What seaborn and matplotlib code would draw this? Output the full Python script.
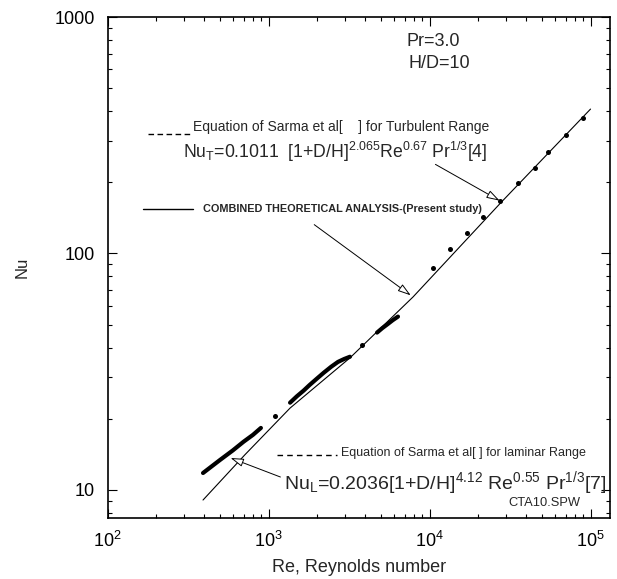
import matplotlib
matplotlib.use('Agg')
import matplotlib.pyplot as plt
import matplotlib.ticker as mticker
from matplotlib.lines import Line2D
import pandas as pd
import seaborn as sns

# combined theoretical analysis (solid thin line)
theory_re = [392, 714, 1361, 3206, 7900, 28200, 100000]
theory_nu = [9.07, 14.1, 22.2, 36.2, 65.5, 166, 408]

# laminar correlation (thick band at low Re)
laminar_re = [392, 500, 600, 700, 800, 897]
laminar_nu = [11.8, 13.4, 14.7, 16.0, 17.1, 18.3]

# dense experimental bands
bandA_re = [1361, 1500, 1650, 1800, 2000, 2200, 2450, 2700, 2950, 3206]
bandA_nu = [23.4, 24.9, 26.3, 27.8, 29.6, 31.3, 33.2, 34.8, 35.8, 36.6]
bandB_re = [4720, 5100, 5500, 5900, 6370]
bandB_nu = [46.3, 48.4, 50.3, 52.2, 54.1]

# single experimental points
pts_re = [1097, 3810, 10500, 13400, 17100, 21500, 27400, 35500, 45200, 54400, 70500, 89800]
pts_nu = [20.6, 41.1, 87.2, 104, 122, 142, 166, 198, 231, 268, 316, 373]

sns.set_style('ticks')
plt.rcParams['font.family'] = ['Liberation Sans', 'DejaVu Sans']
plt.rcParams['mathtext.fontset'] = 'custom'
plt.rcParams['mathtext.rm'] = 'Liberation Sans'
plt.rcParams['mathtext.it'] = 'Liberation Sans:italic'
plt.rcParams['mathtext.bf'] = 'Liberation Sans:bold'

W, H = 617, 579
fig = plt.figure(figsize=(W / 100, H / 100), dpi=100)
ax = fig.add_axes([107.5 / W, 1 - 518 / H, (610 - 107.5) / W, (518 - 17) / H])

bands = pd.DataFrame({
    'Re': laminar_re + bandA_re + bandB_re,
    'Nu': laminar_nu + bandA_nu + bandB_nu,
    'seg': ['lam'] * len(laminar_re) + ['A'] * len(bandA_re) + ['B'] * len(bandB_re),
})

sns.lineplot(x=theory_re, y=theory_nu, color='black', lw=0.8, ax=ax)
sns.lineplot(data=bands, x='Re', y='Nu', units='seg', estimator=None,
             color='black', lw=3, ax=ax)
sns.scatterplot(x=pts_re, y=pts_nu, color='black', s=13, linewidth=0, ax=ax)

ax.set_xscale('log')
ax.set_yscale('log')
ax.set_xlim(100, 10 ** 5.121)
ax.set_ylim(10 ** 0.8816, 1000)

ax.yaxis.set_major_formatter(mticker.FuncFormatter(lambda v, p: f'{v:g}'))
ax.tick_params(which='both', direction='in', top=True, right=True, width=0.8,
               labelsize=13, colors='black')
ax.tick_params(which='major', length=6.5, pad=9)
ax.tick_params(which='minor', length=3)
for s in ax.spines.values():
    s.set_linewidth(1.2)
    s.set_color('black')

ax.set_ylabel('Nu', fontsize=12, labelpad=18)
ax.set_xlabel('Re, Reynolds number', fontsize=13, labelpad=6)


def fp(x, y):
    return (x, H - y)


def ftext(x, y, s, **kw):
    fig.text(x / W, 1 - y / H, s, va='center', ha='left', **kw)


def fline(x0, x1, y, **kw):
    fig.add_artist(Line2D([x0 / W, x1 / W], [1 - y / H, 1 - y / H],
                          transform=fig.transFigure, color='black', **kw))


ftext(407, 42, 'Pr=3.0', fontsize=13)
ftext(409, 63, 'H/D=10', fontsize=13)

fline(148, 192, 134, lw=1, ls=(0, (4, 2.5)))
ftext(193, 127, 'Equation of Sarma et al[    ] for Turbulent Range', fontsize=10)
ftext(183, 152, r'Nu$_\mathrm{T}$=0.1011  [1+D/H]$^{2.065}$Re$^{0.67}$ Pr$^{1/3}$[4]',
      fontsize=12.7)

fline(143, 193, 209, lw=1)
ftext(203, 209, 'COMBINED THEORETICAL ANALYSIS-(Present study)', fontsize=7.8,
      fontweight='bold')

fline(277, 337, 455, lw=1, ls=(0, (4, 3)))
ftext(341, 453, 'Equation of Sarma et al[ ] for laminar Range', fontsize=9)
ftext(284, 483, r'Nu$_\mathrm{L}$=0.2036[1+D/H]$^{4.12}$ Re$^{0.55}$ Pr$^{1/3}$[7]',
      fontsize=14)
ftext(508, 503, 'CTA10.SPW', fontsize=9.3)

arrow = dict(arrowstyle='-|>,head_length=0.8,head_width=0.25', fc='white',
             ec='black', lw=0.7)
for start, end in [((433, 163), (502, 202)), ((312, 223), (413, 297)),
                   ((283, 478), (228, 457))]:
    ax.annotate('', xy=fp(*end), xycoords='figure pixels',
                xytext=fp(*start), textcoords='figure pixels', arrowprops=arrow)

fig.savefig('out.png', dpi=100)
